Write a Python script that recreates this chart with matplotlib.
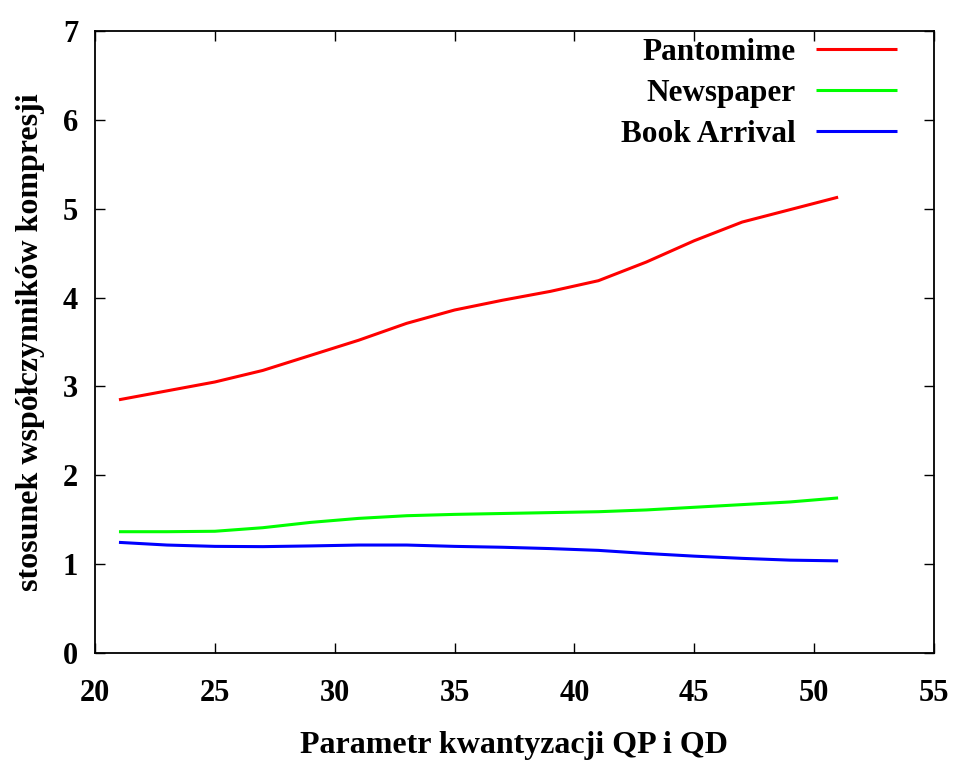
import matplotlib
matplotlib.use("Agg")
import matplotlib.pyplot as plt

qp = [21, 23, 25, 27, 29, 31, 33, 35, 37, 39, 41, 43, 45, 47, 49, 51]
pantomime = [2.85, 2.95, 3.05, 3.18, 3.35, 3.52, 3.71, 3.86, 3.97, 4.07, 4.19, 4.40, 4.64, 4.85, 4.99, 5.13]
newspaper = [1.365, 1.365, 1.37, 1.41, 1.47, 1.515, 1.545, 1.56, 1.57, 1.58, 1.59, 1.61, 1.64, 1.67, 1.70, 1.745]
book_arrival = [1.245, 1.215, 1.20, 1.197, 1.205, 1.215, 1.215, 1.20, 1.19, 1.175, 1.155, 1.12, 1.09, 1.065, 1.045, 1.037]

series_names = ["Pantomime", "Newspaper", "Book Arrival"]
series_colors = ["#ff0000", "#00ff00", "#0000ff"]

xticks = [20, 25, 30, 35, 40, 45, 50, 55]
yticks = [0, 1, 2, 3, 4, 5, 6, 7]

plt.rcParams['font.family'] = ['Liberation Serif', 'DejaVu Serif']
plt.rcParams['font.weight'] = 'bold'

FS = 22
LFS = 23

fig = plt.figure(figsize=(9.54, 7.60), dpi=100)
ax = fig.add_axes([95/954, 1 - 653/760, (934-95)/954, (653-31)/760])

for name, vals, col in zip(series_names, [pantomime, newspaper, book_arrival], series_colors):
    ax.plot(qp, vals, color=col, lw=2.2, label=name, solid_capstyle='butt')

ax.set_xlim(20, 55)
ax.set_ylim(0, 7)
ax.set_xticks(xticks)
ax.set_yticks(yticks)
ax.tick_params(direction='in', length=7, width=1, top=True, right=True,
               labelsize=FS, colors='black')
ax.tick_params(axis='x', pad=19)
ax.tick_params(axis='y', pad=12)
for lab in ax.get_xticklabels() + ax.get_yticklabels():
    lab.set_fontweight('bold')
for s in ax.spines.values():
    s.set_linewidth(1.3)

ax.set_xlabel("Parametr kwantyzacji QP i QD", fontsize=LFS, fontweight='bold', labelpad=16)
ax.set_ylabel("stosunek współczynników kompresji", fontsize=LFS, fontweight='bold', labelpad=13)

leg = ax.legend(loc='upper right', bbox_to_anchor=(897/954, 1 - 38/760),
                bbox_transform=fig.transFigure, frameon=False, markerfirst=False,
                handlelength=2.6, handletextpad=0.65, labelspacing=0.38,
                borderpad=0, borderaxespad=0,
                prop={'size': 22.5, 'weight': 'bold', 'family': ['Liberation Serif']})

fig.savefig("out.png", dpi=100)
